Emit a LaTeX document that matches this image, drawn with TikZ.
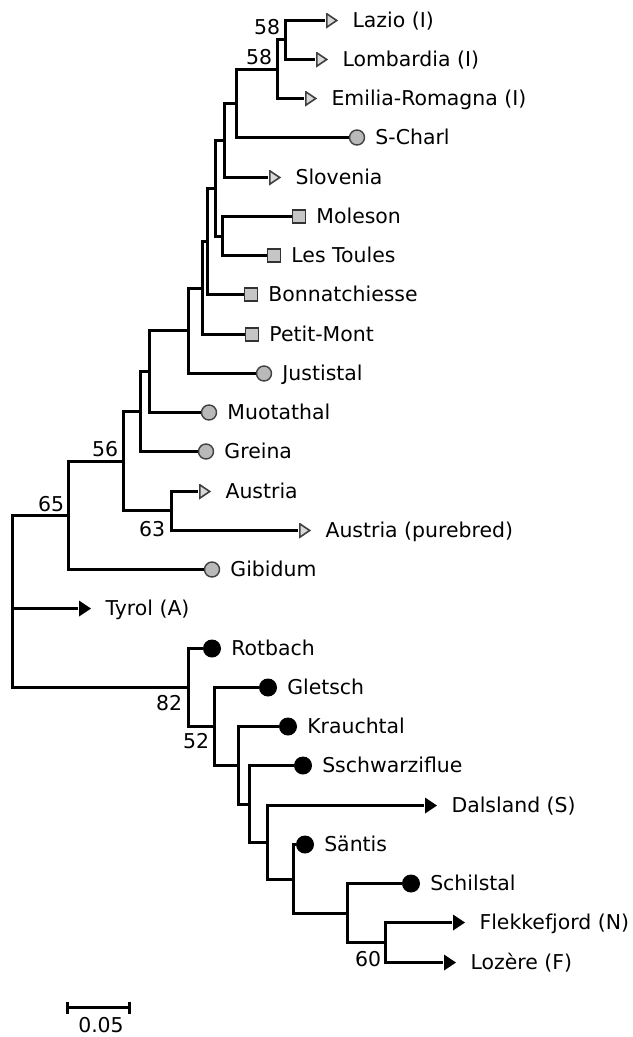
\documentclass[tikz,border=0pt]{standalone}
\usepackage{fontspec}
\setmainfont{DejaVu Sans}
\usetikzlibrary{positioning}

\begin{document}
\begin{tikzpicture}[x=1bp,y=-1bp,line width=2.6bp,
    elbow/.style={to path={|- (\tikztotarget)}},
    leaf/.style={inner sep=0pt,text height=14pt,text depth=0pt,font=\fontsize{20.5}{24}\selectfont},
    boot/.style={leaf},
    opentri/.style={rectangle,inner sep=0pt,minimum width=12bp,minimum height=15bp,fill=white,
        path picture={\filldraw[draw=black!75,fill=gray!30,line width=1.6bp]
            ([shift={(0.8bp,0.8bp)}]path picture bounding box.south west) --
            ([shift={(0.8bp,-0.8bp)}]path picture bounding box.north west) --
            ([shift={(-1.3bp,0bp)}]path picture bounding box.east) -- cycle;}},
    blacktri/.style={rectangle,inner sep=0pt,minimum width=12bp,minimum height=16bp,fill=white,
        path picture={\fill[black] (path picture bounding box.south west) --
            (path picture bounding box.north west) -- (path picture bounding box.east) -- cycle;}},
    graydot/.style={circle,minimum size=15bp,inner sep=0pt,draw=black!75,fill=gray!55,line width=1.4bp},
    blackdot/.style={circle,minimum size=18bp,inner sep=0pt,fill=black,line width=0pt},
    graybox/.style={rectangle,minimum size=13bp,inner sep=0pt,draw=black!80,fill=gray!45,line width=1.4bp}]
    \useasboundingbox (0,0) rectangle (633,1037);

    % internal nodes
    \coordinate (r) at (12.5,601.5);
    \coordinate (n65) at (68.5,515.5);
    \coordinate (n56) at (123.5,461.5);
    \coordinate (n63) at (171.5,510.5);
    \coordinate (nK) at (140.5,411.5);
    \coordinate (nJ) at (149.5,371.5);
    \coordinate (nI) at (188.5,330.5);
    \coordinate (nH) at (202.5,288.5);
    \coordinate (nG) at (207.5,241.5);
    \coordinate (nE) at (215.5,188.5);
    \coordinate (nF) at (222.5,236.5);
    \coordinate (nD) at (224.5,140.5);
    \coordinate (nC) at (236.5,103.5);
    \coordinate (nB) at (277.5,69.5);
    \coordinate (nA) at (285.5,39.5);
    \coordinate (n82) at (188.5,687.5);
    \coordinate (n52) at (214.5,726.5);
    \coordinate (nN) at (238.5,765.5);
    \coordinate (nO) at (249.5,804.5);
    \coordinate (nP) at (267.5,842.5);
    \coordinate (nQ) at (293.5,879.5);
    \coordinate (nR) at (347.5,913.5);
    \coordinate (nS) at (385.5,942.5);

    % leaves
    \node[opentri] (mLazio) at (332,20.5) {};
    \node[opentri] (mLombardia) at (322,59.5) {};
    \node[opentri] (mEmilia) at (311,98.5) {};
    \node[graydot] (mSCharl) at (357,137.5) {};
    \node[opentri] (mSlovenia) at (275,177.5) {};
    \node[graybox] (mMoleson) at (299,216.5) {};
    \node[graybox] (mLesToules) at (274,255.5) {};
    \node[graybox] (mBonn) at (251,294.5) {};
    \node[graybox] (mPetit) at (252,334.5) {};
    \node[graydot] (mJustistal) at (264,373.5) {};
    \node[graydot] (mMuotathal) at (209,412.5) {};
    \node[graydot] (mGreina) at (206,451.5) {};
    \node[opentri] (mAustria) at (205,491.5) {};
    \node[opentri] (mAustriaP) at (305,530.5) {};
    \node[graydot] (mGibidum) at (212,569.5) {};
    \node[blacktri] (mTyrol) at (85,608.5) {};
    \node[blackdot] (mRotbach) at (212,648.5) {};
    \node[blackdot] (mGletsch) at (268,687.5) {};
    \node[blackdot] (mKrauchtal) at (288,726.5) {};
    \node[blackdot] (mSsch) at (303,765.5) {};
    \node[blacktri] (mDalsland) at (431,805.5) {};
    \node[blackdot] (mSantis) at (305,844.5) {};
    \node[blackdot] (mSchilstal) at (411,883.5) {};
    \node[blacktri] (mFlekke) at (459,922.5) {};
    \node[blacktri] (mLozere) at (450,962.5) {};

    \node[leaf,right=12pt of mLazio] (lLazio) {Lazio (I)};
    \node[leaf,right=12pt of mLombardia] (lLombardia) {Lombardia (I)};
    \node[leaf,right=12pt of mEmilia] (lEmilia) {Emilia-Romagna (I)};
    \node[leaf,right=9pt of mSCharl] (lSCharl) {S-Charl};
    \node[leaf,right=12pt of mSlovenia] (lSlovenia) {Slovenia};
    \node[leaf,right=9pt of mMoleson] (lMoleson) {Moleson};
    \node[leaf,right=9pt of mLesToules] (lLesToules) {Les Toules};
    \node[leaf,right=9pt of mBonn] (lBonn) {Bonnatchiesse};
    \node[leaf,right=9pt of mPetit] (lPetit) {Petit-Mont};
    \node[leaf,right=9pt of mJustistal] (lJustistal) {Justistal};
    \node[leaf,right=9pt of mMuotathal] (lMuotathal) {Muotathal};
    \node[leaf,right=9pt of mGreina] (lGreina) {Greina};
    \node[leaf,right=12pt of mAustria] (lAustria) {Austria};
    \node[leaf,right=12pt of mAustriaP] (lAustriaP) {Austria (purebred)};
    \node[leaf,right=9pt of mGibidum] (lGibidum) {Gibidum};
    \node[leaf,right=12pt of mTyrol] (lTyrol) {Tyrol (A)};
    \node[leaf,right=9pt of mRotbach] (lRotbach) {Rotbach};
    \node[leaf,right=9pt of mGletsch] (lGletsch) {Gletsch};
    \node[leaf,right=9pt of mKrauchtal] (lKrauchtal) {Krauchtal};
    \node[leaf,right=9pt of mSsch] (lSsch) {Sschwarziflue};
    \node[leaf,right=12pt of mDalsland] (lDalsland) {Dalsland (S)};
    \node[leaf,right=9pt of mSantis] (lSantis) {Säntis};
    \node[leaf,right=9pt of mSchilstal] (lSchilstal) {Schilstal};
    \node[leaf,right=12pt of mFlekke] (lFlekke) {Flekkefjord (N)};
    \node[leaf,right=12pt of mLozere] (lLozere) {Lozère (F)};

    % bootstrap values
    \node[boot,above left=4pt and 4pt of nA] (bA) {58};
    \node[boot,above left=4pt and 4pt of nB] (bB) {58};
    \node[boot,above left=4pt and 4pt of n56] (b56) {56};
    \node[boot,above left=3pt and 3pt of n65] (b65) {65};
    \node[boot,below left=11pt and 5pt of n63] (b63) {63};
    \node[boot,below left=8pt and 5pt of n82] (b82) {82};
    \node[boot,below left=7pt and 4pt of n52] (b52) {52};
    \node[boot,below left=9pt and 3pt of nS] (bS) {60};

    \path[elbow]
        (r) edge (n65)
        (r) edge (mTyrol)
        (r) edge (n82)
        (n65) edge (n56)
        (n65) edge (mGibidum)
        (n56) edge (nK)
        (n56) edge (n63)
        (n63) edge (mAustria)
        (n63) edge (mAustriaP)
        (nK) edge (nJ)
        (nK) edge (mGreina)
        (nJ) edge (nI)
        (nJ) edge (mMuotathal)
        (nI) edge (nH)
        (nI) edge (mJustistal)
        (nH) edge (nG)
        (nH) edge (mPetit)
        (nG) edge (nE)
        (nG) edge (mBonn)
        (nE) edge (nD)
        (nE) edge (nF)
        (nF) edge (mMoleson)
        (nF) edge (mLesToules)
        (nD) edge (nC)
        (nD) edge (mSlovenia)
        (nC) edge (nB)
        (nC) edge (mSCharl)
        (nB) edge (nA)
        (nB) edge (mEmilia)
        (nA) edge (mLazio)
        (nA) edge (mLombardia)
        (n82) edge (mRotbach)
        (n82) edge (n52)
        (n52) edge (mGletsch)
        (n52) edge (nN)
        (nN) edge (mKrauchtal)
        (nN) edge (nO)
        (nO) edge (mSsch)
        (nO) edge (nP)
        (nP) edge (mDalsland)
        (nP) edge (nQ)
        (nQ) edge (mSantis)
        (nQ) edge (nR)
        (nR) edge (mSchilstal)
        (nR) edge (nS)
        (nS) edge (mFlekke)
        (nS) edge (mLozere)
        ;

    % scale bar
    \coordinate (s0) at (67.5,1007.5);
    \coordinate (s1) at (129.5,1007.5);
    \draw (s0) -- (s1);
    \draw ([yshift=6bp]s0) -- ([yshift=-6bp]s0);
    \draw ([yshift=6bp]s1) -- ([yshift=-6bp]s1);
    \node[leaf,anchor=north] (scale) at (101,1017) {0.05};
\end{tikzpicture}
\end{document}
